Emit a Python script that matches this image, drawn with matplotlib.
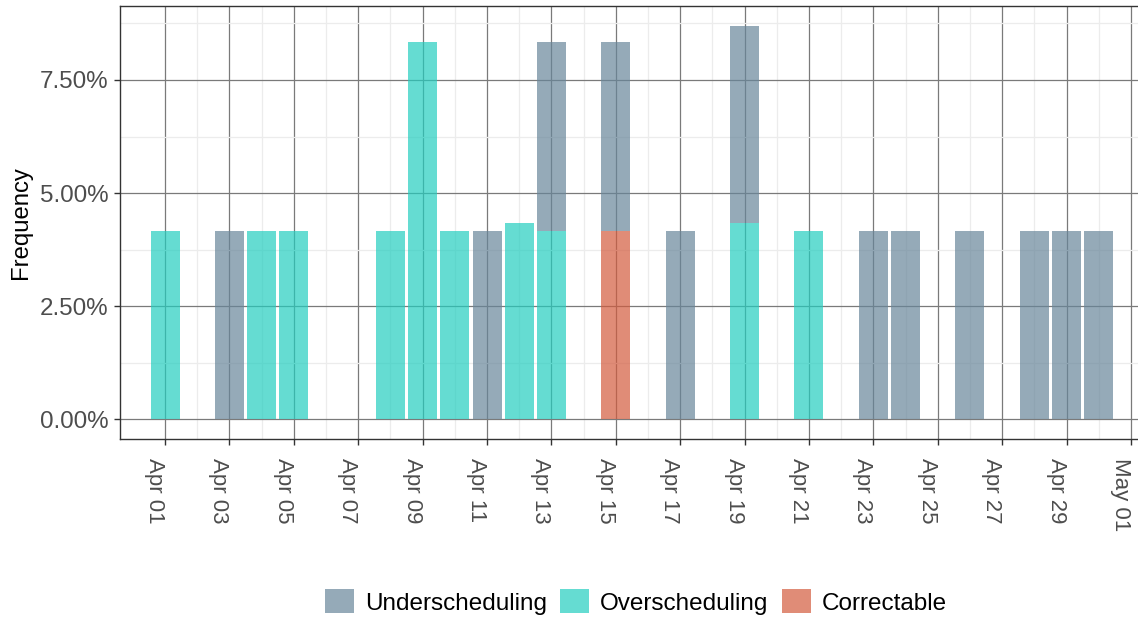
import numpy as np
import matplotlib
matplotlib.use("Agg")
import matplotlib.pyplot as plt
import matplotlib.dates as mdates
from matplotlib.patches import Patch
from matplotlib.ticker import FuncFormatter, MultipleLocator

plt.rcParams['font.family'] = ['Liberation Sans', 'DejaVu Sans']

dates = ['2021-04-01', '2021-04-03', '2021-04-04', '2021-04-05', '2021-04-08',
         '2021-04-09', '2021-04-10', '2021-04-11', '2021-04-12', '2021-04-13',
         '2021-04-15', '2021-04-17', '2021-04-19', '2021-04-21', '2021-04-23',
         '2021-04-24', '2021-04-26', '2021-04-28', '2021-04-29', '2021-04-30']
under = [0, 4.17, 0, 0, 0, 0, 0, 4.17, 0, 4.17,
         4.17, 4.17, 4.35, 0, 4.17, 4.17, 4.17, 4.17, 4.17, 4.17]
over = [4.17, 0, 4.17, 4.17, 4.17, 8.33, 4.17, 0, 4.35, 4.17,
        0, 0, 4.35, 4.17, 0, 0, 0, 0, 0, 0]
correct = [0, 0, 0, 0, 0, 0, 0, 0, 0, 0,
           4.17, 0, 0, 0, 0, 0, 0, 0, 0, 0]
series_names = ['Underscheduling', 'Overscheduling', 'Correctable']

c_under = '#68869a'
c_over = '#24cebf'
c_corr = '#d35b3e'
alpha = 0.7

x = mdates.date2num(np.array(dates, dtype='datetime64[D]'))
under = np.array(under); over = np.array(over); correct = np.array(correct)

fig = plt.figure(figsize=(11.38, 6.2), dpi=100)
ax = fig.add_axes([120/1138, 181/620, 1018/1138, 433/620])

ax.set_axisbelow(True)
ax.grid(which='major', color='#7a7a7a', linewidth=0.9)
ax.grid(which='minor', color='#ececec', linewidth=0.9)

w = 0.9
ax.bar(x, correct, width=w, color=c_corr, alpha=alpha, linewidth=0)
ax.bar(x, over, width=w, bottom=correct, color=c_over, alpha=alpha, linewidth=0)
ax.bar(x, under, width=w, bottom=correct + over, color=c_under, alpha=alpha, linewidth=0)

x0 = mdates.date2num(np.datetime64('2021-04-01'))
ax.set_xlim(x0 - 1.4, x0 + 30.22)
ax.set_ylim(-0.435, 9.135)

ax.set_xticks(x0 + np.arange(0, 31, 2))
ax.set_xticks(x0 + np.arange(1, 31, 2), minor=True)
ax.xaxis.set_major_formatter(mdates.DateFormatter('%b %d'))

ax.yaxis.set_major_locator(MultipleLocator(2.5))
ax.yaxis.set_minor_locator(MultipleLocator(1.25))
ax.yaxis.set_major_formatter(FuncFormatter(lambda v, p: f'{v:.2f}%'))

ax.tick_params(axis='both', which='major', labelcolor='#4d4d4d',
               color='#333333', length=4, width=1)
ax.tick_params(axis='both', which='minor', length=0)
ax.tick_params(axis='x', which='major', pad=9.4, labelsize=16)
ax.tick_params(axis='y', which='major', pad=4.3, labelsize=17.4)
for lab in ax.get_xticklabels():
    lab.set_rotation(270)
    lab.set_ha('right')
    lab.set_va('top')
    lab.set_rotation_mode('default')

for side in ['left', 'bottom', 'top']:
    ax.spines[side].set_color('#333333')
    ax.spines[side].set_linewidth(1.0)
ax.spines['right'].set_visible(False)

ax.set_ylabel('Frequency', fontsize=17.2, color='black', labelpad=6)

handles = [Patch(facecolor=c_under, alpha=alpha, edgecolor='none'),
           Patch(facecolor=c_over, alpha=alpha, edgecolor='none'),
           Patch(facecolor=c_corr, alpha=alpha, edgecolor='none')]
fig.legend(handles, series_names, loc='center', bbox_to_anchor=(636/1138, 1 - 602/620),
           ncol=3, frameon=False, fontsize=17.5, handlelength=1.2, handleheight=1.15,
           handletextpad=0.45, columnspacing=0.53)

fig.savefig('out.png', dpi=100)
